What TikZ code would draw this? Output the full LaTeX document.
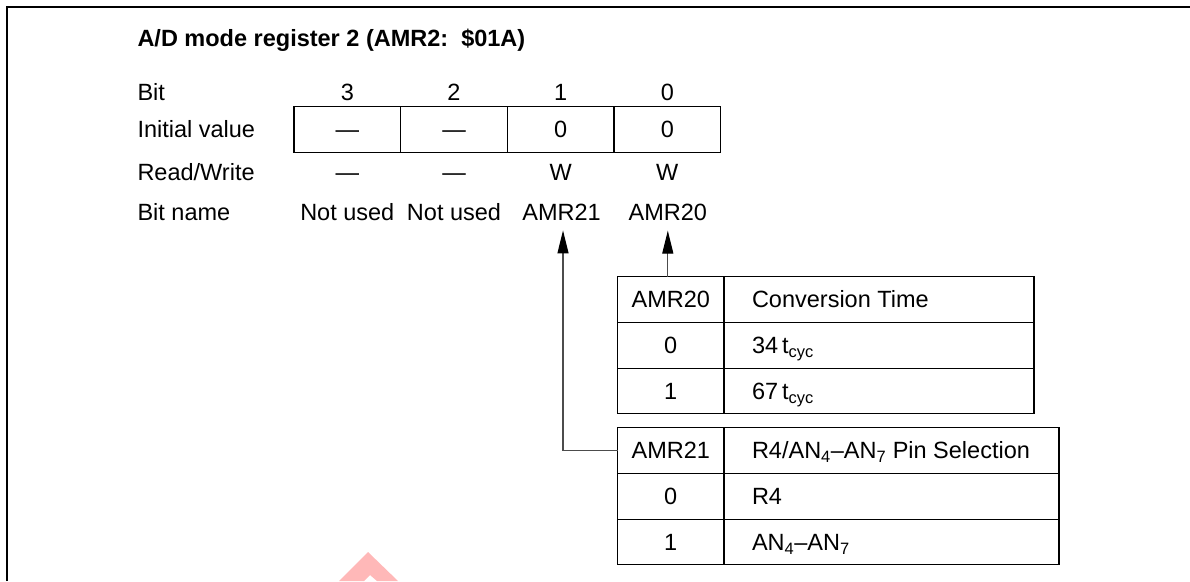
\documentclass[tikz,border=0pt]{standalone}
\usepackage{fontspec}
\setmainfont{Liberation Sans}
\usetikzlibrary{arrows.meta}
\definecolor{wmark}{HTML}{FFB8B8}
\begin{document}
\begin{tikzpicture}[x=1pt,y=-1pt,
  every node/.style={font=\fontsize{23.5}{28}\selectfont, inner sep=0pt, outer sep=0pt},
  txt/.style={anchor=base},
  lbl/.style={anchor=base west},
  cell/.style={draw=black, line width=1.2pt, minimum height=45.7pt},
  conn/.style={draw=black!70, line width=1.1pt, -{Triangle[length=23pt,width=11pt,color=black]}},
  frameline/.style={line width=2pt}
]
\useasboundingbox (0,0) rectangle (1190,581);
\draw[frameline] (6.5,581) -- (6.5,7) -- (1190,7);

% watermark fragment
\fill[wmark] (339,581) -- (368,552) -- (398,581) -- (377,581) -- (370,575) -- (364,581) -- cycle;

% title
\node[lbl, font=\fontsize{23.5}{28}\selectfont\bfseries] (title) at (137.5,46) {A/D mode register 2 (AMR2:\ \ \$01A)};

% row labels
\node[lbl] (lbit)  at (137.5,100.4) {Bit};
\node[lbl] (linit) at (137.5,137.9) {Initial value};
\node[lbl] (lrw)   at (137.5,180.4) {Read/Write};
\node[lbl] (lname) at (137.5,220.4) {Bit name};

% bit numbers
\node[txt] (b3) at (347.3,100.4) {3};
\node[txt] (b2) at (454.0,100.4) {2};
\node[txt] (b1) at (560.7,100.4) {1};
\node[txt] (b0) at (667.3,100.4) {0};

% register cells
\node[cell, minimum width=106.7pt, minimum height=45.6pt] (r3) at (347.3,129.5) {};
\node[cell, minimum width=106.7pt, minimum height=45.6pt] (r2) at (454.0,129.5) {};
\node[cell, minimum width=106.7pt, minimum height=45.6pt] (r1) at (560.7,129.5) {};
\node[cell, minimum width=106.7pt, minimum height=45.6pt] (r0) at (667.3,129.5) {};
\node[txt] (i3) at (347.3,137.9) {—};
\node[txt] (i2) at (454.0,137.9) {—};
\node[txt] (i1) at (560.7,137.9) {0};
\node[txt] (i0) at (667.3,137.9) {0};

% read/write
\node[txt] (w3) at (347.3,180.4) {—};
\node[txt] (w2) at (454.0,180.4) {—};
\node[txt] (w1) at (560.7,180.4) {W};
\node[txt] (w0) at (667.3,180.4) {W};

% bit names
\node[txt] (n3) at (347.3,220.4) {Not used};
\node[txt] (n2) at (454.0,220.4) {Not used};
\node[txt] (n1) at (561.5,220.4) {AMR21};
\node[txt] (n0) at (667.8,220.4) {AMR20};

% table for AMR20
\node[cell, minimum width=106.5pt] (ta0) at (670.75,299.55) {};
\node[cell, minimum width=310pt]   (tb0) at (879,299.55) {};
\node[cell, minimum width=106.5pt] (ta1) at (670.75,345.25) {};
\node[cell, minimum width=310pt]   (tb1) at (879,345.25) {};
\node[cell, minimum width=106.5pt] (ta2) at (670.75,390.95) {};
\node[cell, minimum width=310pt]   (tb2) at (879,390.95) {};
\node[txt] (xa0) at (670.75,307.95) {AMR20};
\node[lbl] (xb0) at (752,307.95) {Conversion Time};
\node[txt] (xa1) at (670.75,353.65) {0};
\node[lbl] (xb1) at (752,353.65) {34\,t\textsubscript{cyc}};
\node[txt] (xa2) at (670.75,399.35) {1};
\node[lbl] (xb2) at (752,399.35) {67\,t\textsubscript{cyc}};

% table for AMR21
\node[cell, minimum width=106.5pt] (ua0) at (670.75,450.55) {};
\node[cell, minimum width=335pt]   (ub0) at (891.5,450.55) {};
\node[cell, minimum width=106.5pt] (ua1) at (670.75,496.25) {};
\node[cell, minimum width=335pt]   (ub1) at (891.5,496.25) {};
\node[cell, minimum width=106.5pt] (ua2) at (670.75,541.95) {};
\node[cell, minimum width=335pt]   (ub2) at (891.5,541.95) {};
\node[txt] (ya0) at (670.75,458.95) {AMR21};
\node[lbl] (yb0) at (752,458.95) {R4/AN\textsubscript{4}–AN\textsubscript{7} Pin Selection};
\node[txt] (ya1) at (670.75,504.65) {0};
\node[lbl] (yb1) at (752,504.65) {R4};
\node[txt] (ya2) at (670.75,550.35) {1};
\node[lbl] (yb2) at (752,550.35) {AN\textsubscript{4}–AN\textsubscript{7}};

% connectors
\coordinate (tip0) at ([yshift=-10pt]n0.south);
\coordinate (tip1) at ([xshift=1.5pt,yshift=-10pt]n1.south);
\draw[conn] (ta0.north -| tip0) -- (tip0);
\draw[conn] (ua0.west) -| (tip1);
\end{tikzpicture}
\end{document}
